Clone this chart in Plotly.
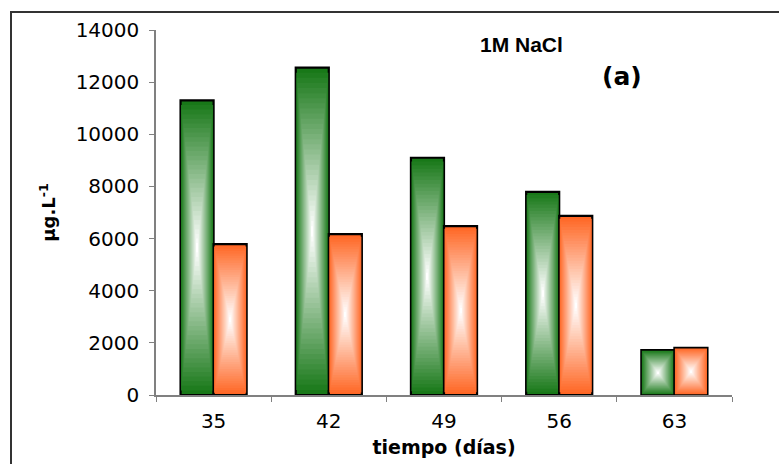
import plotly.graph_objects as go

# ---- data ----
categories = ["35", "42", "49", "56", "63"]
serie_verde = [11300, 12560, 9100, 7790, 1720]
serie_naranja = [5790, 6170, 6480, 6870, 1810]
y_ticks = [0, 2000, 4000, 6000, 8000, 10000, 12000, 14000]

# ---- style ----
GREEN = (24, 120, 24)
ORANGE = (255, 102, 36)
BAR_W = 0.287
N_LEVELS = 32


def mix(c, t):
    r = [round(c[i] * (1 - t) + 255 * t) for i in range(3)]
    return f"rgb({r[0]},{r[1]},{r[2]})"


fig = go.Figure()

for values, col, left in [(serie_verde, GREEN, -BAR_W), (serie_naranja, ORANGE, 0.0)]:
    for k in range(N_LEVELS):
        s = 1 - k / N_LEVELS
        t = k / (N_LEVELS - 1)
        fig.add_trace(go.Bar(
            x=categories,
            y=[v * s for v in values],
            base=[v * (1 - s) / 2 for v in values],
            width=BAR_W * s,
            offset=left + BAR_W * (1 - s) / 2,
            marker=dict(color=mix(col, t),
                        line=dict(color="black", width=2.2 if k == 0 else 0)),
            showlegend=False,
            hoverinfo="skip",
        ))

fig.update_layout(
    width=779, height=464,
    margin=dict(l=156, r=47, t=30, b=69),
    paper_bgcolor="white", plot_bgcolor="white",
    barmode="overlay",
    font=dict(family="DejaVu Sans", color="black"),
    xaxis=dict(
        type="category", categoryorder="array", categoryarray=categories,
        automargin=False,
        showline=True, linecolor="#808080", linewidth=1.5,
        ticks="outside", tickson="boundaries", ticklen=5, tickcolor="#808080",
        tickfont=dict(size=20, family="DejaVu Sans"), ticklabelstandoff=7,
        showgrid=False, zeroline=False,
        title=dict(text="<b>tiempo (días)</b>", font=dict(size=19, family="DejaVu Sans"), standoff=9),
    ),
    yaxis=dict(
        range=[0, 14000], tickvals=y_ticks, ticktext=[str(v) for v in y_ticks],
        automargin=False,
        showline=True, linecolor="#808080", linewidth=1.5,
        ticks="outside", ticklen=5, tickcolor="#808080",
        tickfont=dict(size=20, family="DejaVu Sans"), ticklabelstandoff=6,
        showgrid=False, zeroline=False,
        title=dict(text="<b>µg.L<sup>-1</sup></b>", font=dict(size=18, family="DejaVu Sans"), standoff=15),
    ),
    shapes=[dict(type="rect", xref="paper", yref="paper",
                 x0=(11 - 156) / 576, x1=1.3, y0=-0.6, y1=(395 - 12) / 365,
                 line=dict(color="#333333", width=2), fillcolor="rgba(0,0,0,0)", layer="below")],
    annotations=[
        dict(text="<b>1M NaCl</b>", xref="paper", yref="paper", x=0.634, y=0.997,
             showarrow=False, font=dict(family="Liberation Sans", size=21)),
        dict(text="<b>(a)</b>", xref="paper", yref="paper", x=0.847, y=0.918,
             showarrow=False, font=dict(family="DejaVu Sans", size=25)),
    ],
)

fig.write_html("out.html")
